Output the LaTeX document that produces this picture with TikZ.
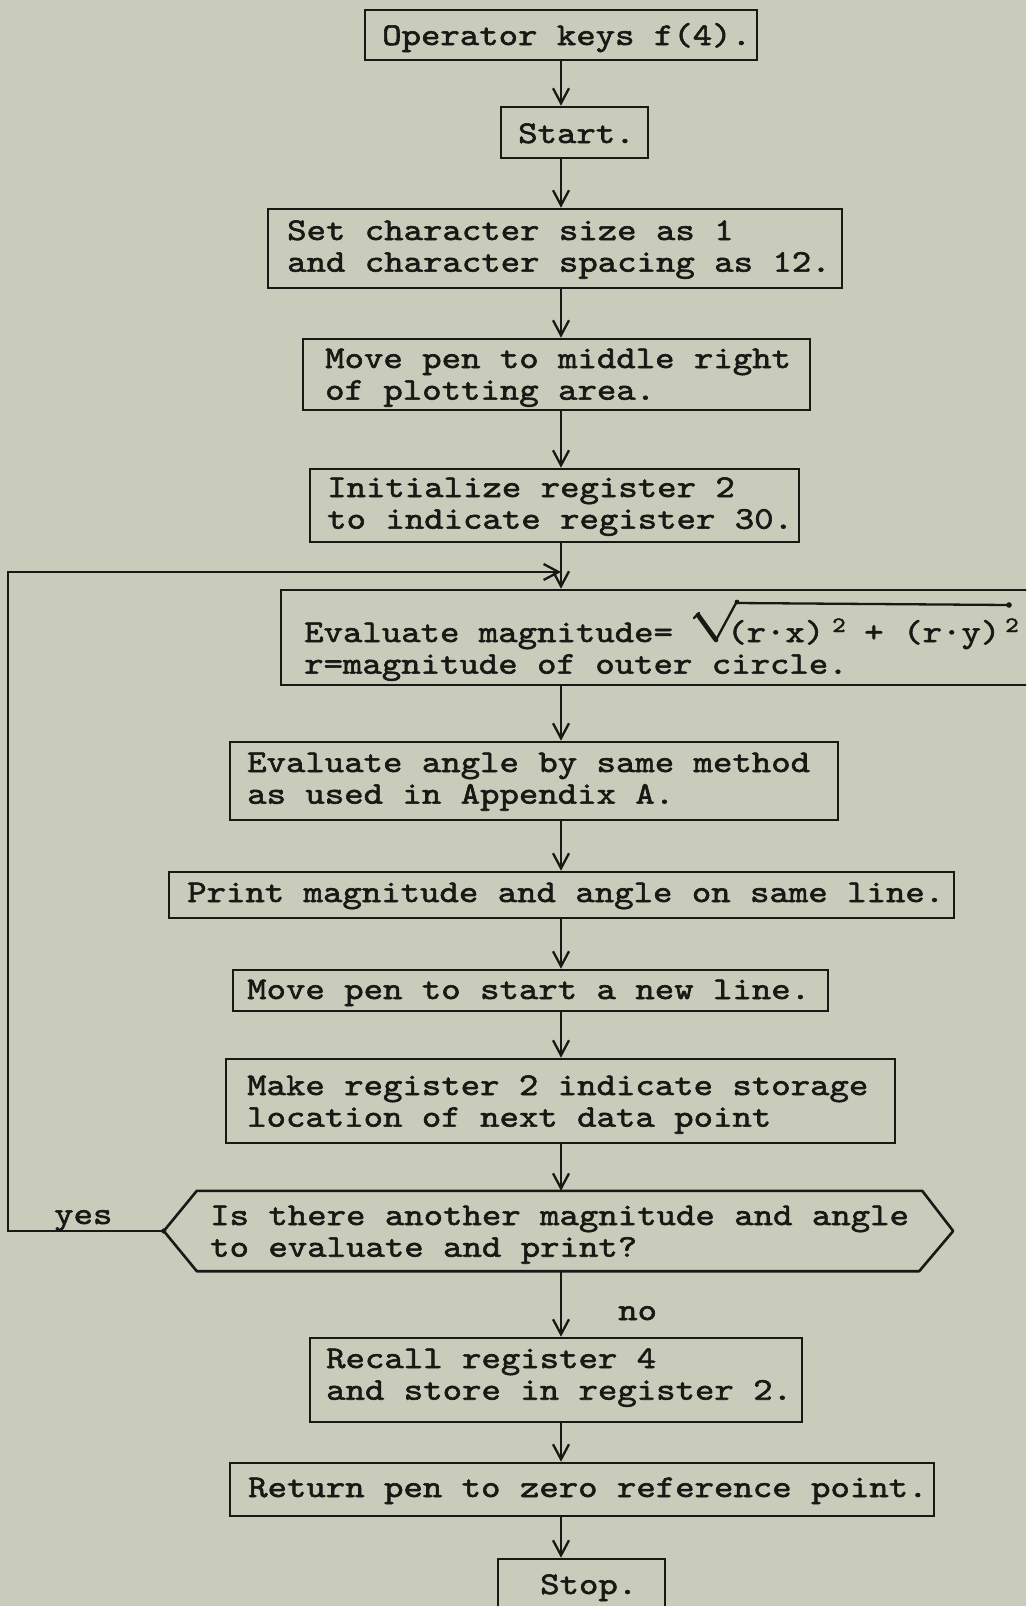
\documentclass[tikz,border=0pt]{standalone}
\usepackage{fontspec}
\newfontfamily\typer{lmmono10-regular.otf}[FakeBold=1.8, FakeStretch=1.17]
\usetikzlibrary{arrows.meta,calc}
\definecolor{paper}{RGB}{201,204,187}
\definecolor{ink}{RGB}{24,24,20}
% two typed lines, baseline of the node = baseline of the first line
\newcommand\typedpair[2]{\vtop{\hbox{#1}\hbox{#2}}}

\begin{document}
\begin{tikzpicture}[x=1pt,y=-1pt,
  box/.style={draw=ink, line width=2.6pt, inner sep=0pt},
  ghost/.style={inner sep=0pt},
  txt/.style={anchor=base west, inner sep=0pt, text=ink,
    font=\typer\fontsize{31.6}{31.7}\selectfont},
  suptxt/.style={anchor=base west, inner sep=0pt, text=ink,
    font=\typer\fontsize{22}{22}\selectfont},
  flow/.style={draw=ink, line width=2.3pt, line cap=round,
    -{Straight Barb[length=15pt,width=16pt]}},
]
\path[use as bounding box] (0,0) rectangle (1026,1606);
\clip (0,0) rectangle (1026,1606);
\fill[paper] (0,0) rectangle (1026,1606);

% vertical axis of the flow and the loop-back corner points
\coordinate (axis) at (561,0);
\coordinate (back) at (8,572);
\coordinate (join) at (561,572);

% boxes
\node[box, minimum width=392pt, minimum height=50pt] (op)      at (561,35)      {};
\node[box, minimum width=147pt, minimum height=51pt] (start)   at (574.5,132.5) {};
\node[box, minimum width=574pt, minimum height=79pt] (set)     at (555,248.5)   {};
\node[box, minimum width=507pt, minimum height=71pt] (movepen) at (556.5,374.5) {};
\node[box, minimum width=489pt, minimum height=73pt] (init)    at (554.5,505.5) {};
\node[box, minimum width=779pt, minimum height=95pt] (mag)     at (670.5,637.5) {};
\node[box, minimum width=608pt, minimum height=78pt] (angle)   at (534,781)     {};
\node[box, minimum width=785pt, minimum height=46pt] (print)   at (561.5,895)   {};
\node[box, minimum width=595pt, minimum height=41pt] (newline) at (530.5,990.5) {};
\node[box, minimum width=669pt, minimum height=84pt] (make)    at (560.5,1101)  {};
\node[ghost, minimum width=789pt, minimum height=80pt] (dec)   at (558.5,1231)  {};
\node[box, minimum width=492pt, minimum height=84pt] (recall)  at (556,1380)    {};
\node[box, minimum width=704pt, minimum height=53pt] (return)  at (582,1489.5)  {};
\node[box, minimum width=167pt, minimum height=81pt] (stop)    at (581.5,1599.5){};

% decision outline
\draw[ink, line width=2.6pt, line join=round]
  (dec.west) -- ($(dec.north west)+(33,0)$) -- ($(dec.north east)+(-31,0)$)
  -- (dec.east) -- ($(dec.south east)+(-34,0)$) -- ($(dec.south west)+(33,0)$)
  -- cycle;

% texts
\node[txt] (op-t)      at (382,45)   {Operator keys f(4).};
\node[txt] (start-t)   at (518,143)  {Start.};
\node[txt] (set-t)     at (287,240)  {\typedpair{Set character size as 1}{and character spacing as 12.}};
\node[txt] (movepen-t) at (325,368)  {\typedpair{Move pen to middle right}{of plotting area.}};
\node[txt] (init-t)    at (327,497)  {\typedpair{Initialize register 2}{to indicate register 30.}};
\node[txt] (mag-t)     at (304,642)  {\typedpair{Evaluate magnitude=}{r=magnitude of outer circle.}};
\node[txt] (angle-t)   at (247,772)  {\typedpair{Evaluate angle by same method}{as used in Appendix A.}};
\node[txt] (print-t)   at (187,902)  {Print magnitude and angle on same line.};
\node[txt] (newline-t) at (247,999)  {Move pen to start a new line.};
\node[txt] (make-t)    at (247,1095) {\typedpair{Make register 2 indicate storage}{location of next data point}};
\node[txt] (dec-t)     at (210,1225) {\typedpair{Is there another magnitude and angle}{to evaluate and print?}};
\node[txt] (recall-t)  at (326,1368) {\typedpair{Recall register 4}{and store in register 2.}};
\node[txt] (return-t)  at (248,1497) {Return pen to zero reference point.};
\node[txt] (stop-t)    at (540,1594) {Stop.};
\node[txt] (yes)       at (54,1224)  {yes};
\node[txt] (no)        at (618,1320) {no};

% the squared terms under the radical
\node[txt]    (sq-a)   at (727,642)  {(r·x)};
\node[suptxt] (pow-a)  at (832,632)  {2};
\node[txt]    (plus)   at (864,642)  {+};
\node[txt]    (sq-b)   at (903,642)  {(r·y)};
\node[suptxt] (pow-b)  at (1005,632) {2};

% radical sign
\draw[ink, line width=4.6pt, line cap=round] (698,615) -- (716,640);
\draw[ink, line width=2.2pt, line cap=round] (694,618) -- (699,613);
\draw[ink, line width=2.3pt, line join=round] (716,640) -- (736,603) -- (1009,605);
\fill[ink] (737,602) circle (2.4pt);
\fill[ink] (1009,605) circle (2.8pt);

% connectors
\draw[flow] (op.south -| axis)      -- (start.north -| axis);
\draw[flow] (start.south -| axis)   -- (set.north -| axis);
\draw[flow] (set.south -| axis)     -- (movepen.north -| axis);
\draw[flow] (movepen.south -| axis) -- (init.north -| axis);
\draw[flow] (init.south -| axis)    -- (mag.north -| axis);
\draw[flow] (mag.south -| axis)     -- (angle.north -| axis);
\draw[flow] (angle.south -| axis)   -- (print.north -| axis);
\draw[flow] (print.south -| axis)   -- (newline.north -| axis);
\draw[flow] (newline.south -| axis) -- (make.north -| axis);
\draw[flow] (make.south -| axis)    -- (dec.north -| axis);
\draw[flow] (dec.south -| axis)     -- (recall.north -| axis);
\draw[flow] (recall.south -| axis)  -- (return.north -| axis);
\draw[flow] (return.south -| axis)  -- (stop.north -| axis);

% loop back on "yes"
\fill[ink] (dec.west) circle (2.6pt);
\draw[flow, line cap=butt] (dec.west) -- (dec.west -| back) -- (back) -- (join);
\end{tikzpicture}
\end{document}
